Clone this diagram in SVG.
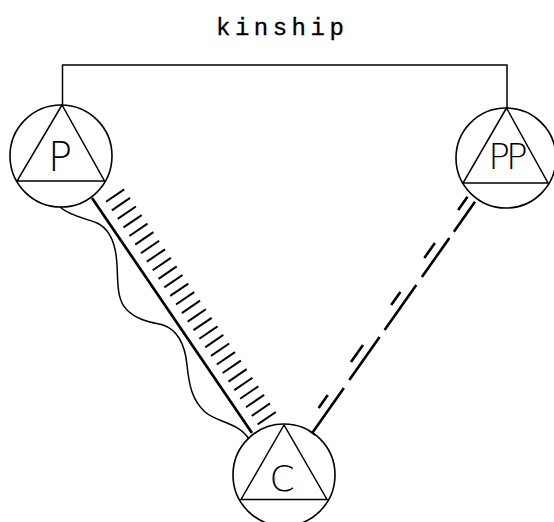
<svg xmlns="http://www.w3.org/2000/svg" width="554" height="522" viewBox="0 0 554 522">
<style>
.ring{fill:none;stroke:#000;stroke-width:1.6}
.tri{fill:none;stroke:#000;stroke-width:1.5;stroke-linejoin:miter}
.lbl{font-family:"DejaVu Sans","Liberation Sans",sans-serif;font-weight:200;font-stretch:condensed;fill:#000;text-anchor:middle}
.thin{fill:none;stroke:#000;stroke-width:1.5}
.thick{fill:none;stroke:#000;stroke-width:2.7}
.dash{fill:none;stroke:#000;stroke-width:2.6;stroke-linecap:butt}
</style>
<rect width="554" height="522" fill="#fff"/>
<text x="216" y="35" font-family="'Liberation Mono','Courier New',monospace" font-size="24" letter-spacing="4.5" fill="#000" stroke="#000" stroke-width="0.3">kinship</text>
<g id="connectors">
<path class="thin" d="M62.5,105 V65 H507 V108"/>
<path class="thick" d="M92,198 L252,433"/>
<g transform="translate(92,198) rotate(55.75)">
<line x1="10" y1="-20.5" x2="282" y2="-20.5" stroke="#000" stroke-width="22" stroke-dasharray="2 8.36"/>
</g>
<path class="thin" d="M60,207 C70,216 85,218 97,223 C110,229 116,245 117,265 C118,285 117,300 127,310 C137,320 150,322 163,325 C178,330 185,345 187,365 C189,385 192,400 205,412 C218,423 238,422 249,439"/>
<g class="dash">
<path d="M475,201.7 L453.9,231.7 M449.4,238 L421.9,277 M416.3,285 L384.6,330 M379.6,337 L349.3,380 M343.9,388 L312.2,433"/>
<path d="M467.5,196.7 L458.2,210 M434.9,243 L424.3,258 M400.4,292 L391.2,305 M363,345 L351,362 M327.8,395 L318.6,408"/>
</g>
<path class="thin" d="M309,431 L315.5,435.5"/>
</g>
<g id="P">
<circle class="ring" cx="61" cy="156" r="51"/>
<path class="tri" d="M62,105 L17,181 L104.5,181 Z"/>
<text class="lbl" x="60" y="170.5" font-size="40">P</text>
</g>
<g id="PP">
<circle class="ring" cx="506" cy="158" r="50"/>
<path class="tri" d="M506.5,108 L463,183 L548,183 Z"/>
<text class="lbl" x="506" y="168.5" font-size="36" letter-spacing="-4">PP</text>
</g>
<g id="C">
<circle class="ring" cx="284" cy="475" r="51"/>
<path class="tri" d="M284,425 L241,499.5 L327,499.5 Z"/>
<text class="lbl" x="282" y="490.5" font-size="36">C</text>
</g>
</svg>
